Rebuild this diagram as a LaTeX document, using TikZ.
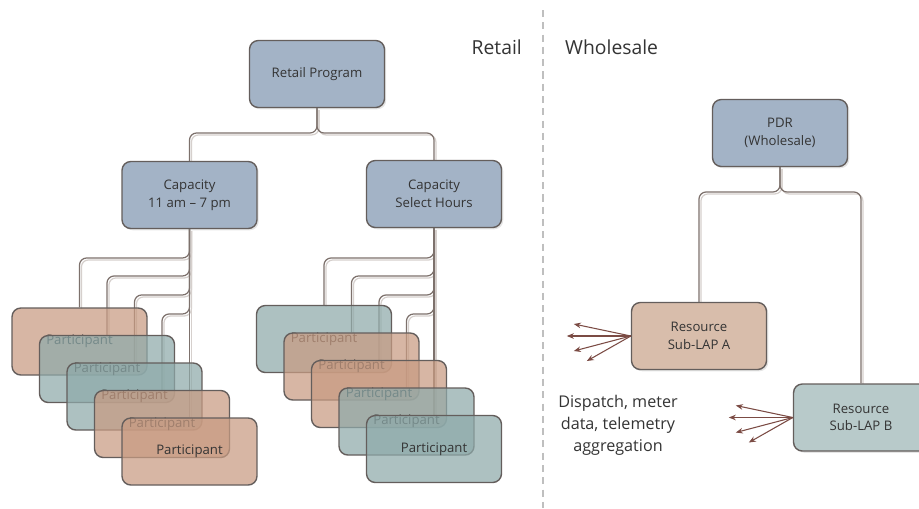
\documentclass[tikz,border=0pt]{standalone}
\usepackage{fontspec}
\setmainfont{Open Sans}
\usetikzlibrary{shadows, arrows.meta, positioning}
\definecolor{my_blue}{RGB}{163, 179, 198}
\definecolor{my_tan}{RGB}{200, 155, 130}
\definecolor{my_teal}{RGB}{142, 170, 170}
\definecolor{my_restan}{RGB}{216, 189, 171}
\definecolor{my_resteal}{RGB}{184, 202, 202}
\definecolor{my_edge}{RGB}{100, 94, 92}
\definecolor{my_link}{RGB}{125, 113, 108}
\definecolor{my_linkshade}{RGB}{214, 208, 205}
\definecolor{my_arrow}{RGB}{123, 75, 68}
\definecolor{my_text}{RGB}{52, 52, 52}
\tikzset {
  box/.style = {draw=my_edge, line width=0.8pt, rounded corners=5pt, rectangle, minimum width=2.7cm, minimum height=1.34cm, align=center, text=my_text, font=\fontsize{7.5}{10}\selectfont},
  model/.style = {box, drop shadow={shadow xshift=1pt, shadow yshift=-1pt, opacity=0.2}},
  part/.style = {box, fill opacity=0.72, text opacity=1},
  link/.style = {draw=my_link, line width=0.7pt, rounded corners=4pt, preaction={draw=my_linkshade, line width=0.7pt, transform canvas={shift={(1.1pt,-1.1pt)}}}},
  fan/.style = {draw=my_arrow, line width=0.6pt, -{Stealth[length=4pt, width=3.2pt]}},
  title/.style = {text=my_text, font=\fontsize{11}{13}\selectfont},
  note/.style = {align=center, text=my_text, font=\fontsize{9.2}{12.5}\selectfont},
  divider/.style = {draw=gray!50, line width=1pt, dash pattern=on 4pt off 3pt}
}
\pgfdeclarelayer{background}
\pgfsetlayers{background,main}

\begin{document}
\begin{tikzpicture}[x=0.02cm, y=-0.02cm]
    \useasboundingbox (0,0) rectangle (919,508);

    % retail side
    \node[model, fill=my_blue] (prog) at (317,74) {Retail Program};
    \node[model, fill=my_blue] (cap1) at (189.5,195) {Capacity\\11 am -- 7 pm};
    \node[model, fill=my_blue] (cap2) at (434,194) {Capacity\\Select Hours};

    \foreach \i/\c in {1/my_tan, 2/my_teal, 3/my_teal, 4/my_tan, 5/my_tan}
        \node[part, fill=\c] (lp\i) at ({52+27.5*\i},{314+27.5*\i}) {Participant};
    \foreach \i/\c in {1/my_teal, 2/my_tan, 3/my_tan, 4/my_teal, 5/my_teal}
        \node[part, fill=\c] (rp\i) at ({296.5+27.5*\i},{311.5+27.5*\i}) {Participant};

    \node[title, anchor=east] (retail) at (528,47) {Retail};
    \node[title, anchor=west] (wholesale) at (559,47) {Wholesale};

    % wholesale side
    \node[model, fill=my_blue] (pdr) at (780,133) {PDR\\(Wholesale)};
    \node[model, fill=my_restan] (resa) at (699,336) {Resource\\Sub-LAP A};
    \node[model, fill=my_resteal] (resb) at (861,417.5) {Resource\\Sub-LAP B};
    \node[note] (dispatch) at (618,425) {Dispatch, meter\\data, telemetry\\aggregation};

    \foreach \i/\dx/\dy in {1/-57/-12, 2/-64/0, 3/-57/15, 4/-44/25} {
        \path (resa.west) ++(\dx,\dy) coordinate (fa\i);
        \path (resb.west) ++(\dx,\dy) coordinate (fb\i);
        \draw[fan] (resa.west) -- (fa\i);
        \draw[fan] (resb.west) -- (fb\i);
    }

    \begin{pgfonlayer}{background}
        \fill[white] (0,0) rectangle (919,508);
        \coordinate (divtop) at (543,10);
        \coordinate (divbot) at (543,508);
        \draw[divider] (divtop) -- (divbot);

        \draw[link] (cap1.north) |- (prog.south |- 0,133) -- (prog.south);
        \draw[link] (cap2.north) |- (prog.south |- 0,133) -- (prog.south);
        \draw[link] (resa.north) |- (pdr.south |- 0,192) -- (pdr.south);
        \draw[link] (resb.north) |- (pdr.south |- 0,192) -- (pdr.south);

        \foreach \i/\y in {1/258, 2/276, 3/295, 4/314} {
            \draw[link] (cap1.south) |- (lp\i.north |- 0,\y) -- (lp\i.north);
            \draw[link] (cap2.south) |- (rp\i.north |- 0,\y) -- (rp\i.north);
        }
        \draw[link] (cap1.south) -- (lp5.north);
        \draw[link] (cap2.south) -- (rp5.north);
    \end{pgfonlayer}

\end{tikzpicture}
\end{document}
